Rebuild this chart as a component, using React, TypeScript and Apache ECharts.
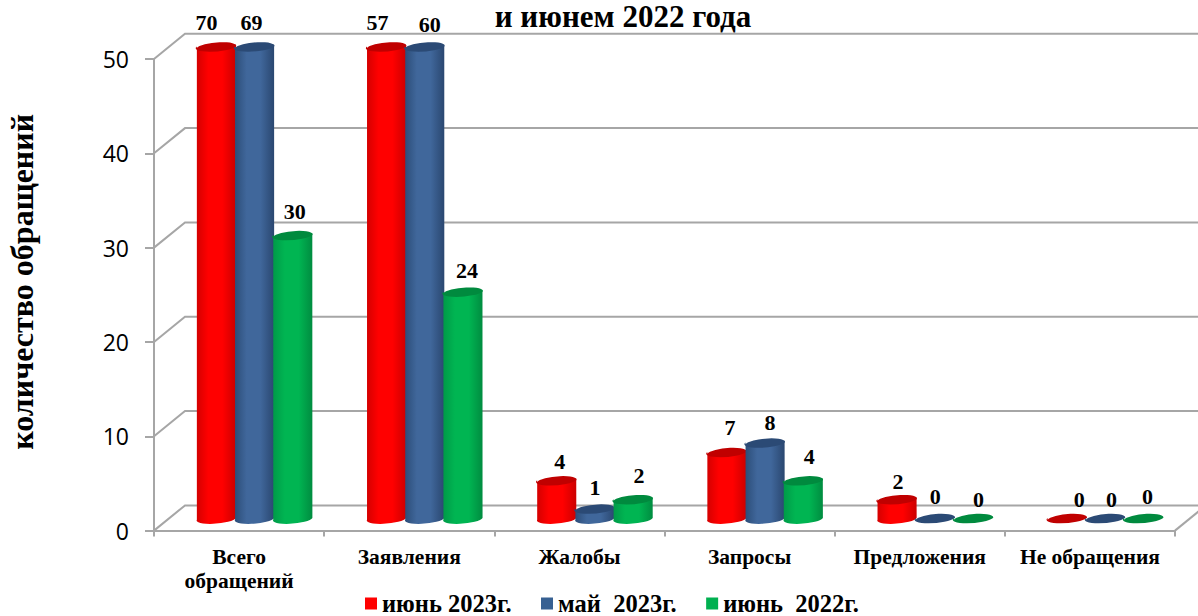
import React, { useEffect, useRef } from "react";
import * as echarts from "echarts";

const categories = ["Всего\nобращений", "Заявления", "Жалобы", "Запросы", "Предложения", "Не обращения"];
const june2023 = [70, 57, 4, 7, 2, 0];
const may2023 = [69, 60, 1, 8, 0, 0];
const june2022 = [30, 24, 2, 4, 0, 0];
const yTicks = [0, 10, 20, 30, 40, 50];
const yMax = 50;
const seriesNames = ["июнь 2023г.", "май  2023г.", "июнь  2022г."];

// hand-placed data-label nudges seen in the reference (px, relative to the top of each cylinder)
const labelDx = [
  [-10, -9, 3, 3, 1, 12],
  [-3, 5, 0, 5, 0, 6],
  [2, 4, 6, 6, 5, 4],
];
const labelDy = [
  [-24, -24, -19, -24.6, -17.7, -18.6],
  [-24, -22, -21, -20, -21.6, -18.6],
  [-23.6, -21, -23.7, -24, -18.6, -21.6],
];

const palette = [
  { flat: "#ff0000", top: "#c00000", edge: "#d40000", mid: "#ff0000", edge2: "#cc0000" },
  { flat: "#376092", top: "#2b4a75", edge: "#2c4d78", mid: "#40679b", edge2: "#2a4770" },
  { flat: "#00b050", top: "#008a3e", edge: "#009a48", mid: "#00b552", edge2: "#008c40" },
];

const SERIF = "'Liberation Serif', 'Times New Roman', serif";
const GREY = "#a6a6a6";
const DEPTH_X = 31;
const DEPTH_Y = 25.2;
const RX = 19.6;
const RY = 4.7;
const STEP = 38.2;
const TILT = 5;

function ellipsePath(cx: number, cy: number) {
  const t = (TILT * Math.PI) / 180;
  const dx = RX * Math.cos(t);
  const dy = RX * Math.sin(t);
  return `M${cx - dx} ${cy + dy}A${RX} ${RY} ${-TILT} 1 1 ${cx + dx} ${cy - dy}A${RX} ${RY} ${-TILT} 1 1 ${cx - dx} ${cy + dy}Z`;
}

function bodyPath(cx: number, top: number, base: number) {
  const t = (TILT * Math.PI) / 180;
  const dx = RX * Math.cos(t);
  const dy = RX * Math.sin(t);
  return `M${cx - dx} ${top + dy}L${cx - dx} ${base + dy}A${RX} ${RY} ${-TILT} 0 0 ${cx + dx} ${base - dy}L${cx + dx} ${top - dy}Z`;
}

function cylinderSeries(name: string, values: number[], si: number) {
  const c = palette[si];
  return {
    name,
    type: "custom",
    itemStyle: { color: c.flat },
    z: 3 + si,
    clip: false,
    encode: { x: 0, y: 1 },
    data: values.map((v, i) => [i, v]),
    renderItem: (_p: any, api: any) => {
      const idx = api.value(0);
      const val = api.value(1);
      const base = api.coord([idx, 0]);
      const top = api.coord([idx, Math.min(val, yMax)]);
      const cx = base[0] + DEPTH_X / 2 + (si - 1) * STEP;
      const by = base[1] - DEPTH_Y / 2;
      const ty = top[1] - DEPTH_Y / 2;
      const children: any[] = [];
      if (val > 0) {
        children.push({
          type: "path",
          shape: { pathData: bodyPath(cx, ty, by) },
          style: {
            fill: new echarts.graphic.LinearGradient(0, 0, 1, 0, [
              { offset: 0, color: c.edge },
              { offset: 0.3, color: c.mid },
              { offset: 0.65, color: c.mid },
              { offset: 1, color: c.edge2 },
            ]),
          },
        });
      }
      children.push({
        type: "path",
        shape: { pathData: ellipsePath(cx, ty) },
        style: { fill: c.top },
      });
      children.push({
        type: "text",
        x: cx + labelDx[si][idx],
        y: ty + labelDy[si][idx],
        style: {
          text: String(val),
          fill: "#000",
          font: `bold 22px ${SERIF}`,
          align: "center",
          verticalAlign: "middle",
        },
      });
      return { type: "group", children };
    },
  };
}

const wallSeries = {
  name: "walls",
  type: "custom",
  silent: true,
  z: 1,
  clip: false,
  encode: { x: 0, y: 1 },
  data: yTicks.map((v) => [0, v]),
  renderItem: (p: any, api: any) => {
    const y = api.coord([0, api.value(1)])[1];
    const x0 = p.coordSys.x;
    const x1 = x0 + p.coordSys.width;
    const lineStyle = { stroke: GREY, lineWidth: 2, fill: "none" };
    const children: any[] = [
      {
        type: "polyline",
        shape: {
          points: [
            [x0, y],
            [x0 + DEPTH_X, y - DEPTH_Y],
            [x1 + DEPTH_X, y - DEPTH_Y],
          ],
        },
        style: lineStyle,
      },
    ];
    if (api.value(1) === 0) {
      children.push({
        type: "line",
        shape: { x1, y1: y, x2: x1 + DEPTH_X, y2: y - DEPTH_Y },
        style: lineStyle,
      });
    }
    return { type: "group", children };
  },
};

export default function App() {
  const ref = useRef<HTMLDivElement>(null);
  useEffect(() => {
    const chart = echarts.init(ref.current!, null, { renderer: "svg" });
    chart.setOption({
      animation: false,
      backgroundColor: "#ffffff",
      title: {
        text: "и июнем 2022 года",
        left: 618,
        top: -4.5,
        textAlign: "center",
        textStyle: { fontFamily: SERIF, fontWeight: "bold", fontSize: 31, color: "#000" },
      },
      legend: {
        data: seriesNames,
        left: 365,
        top: 591,
        padding: 0,
        icon: "rect",
        itemWidth: 12,
        itemHeight: 12,
        itemGap: 29.5,
        textStyle: { fontFamily: SERIF, fontWeight: "bold", fontSize: 24.5, lineHeight: 22, color: "#000" },
      },
      grid: { left: 154, right: 23, top: 59, bottom: 85.4, outerBoundsMode: "none" },
      xAxis: {
        type: "category",
        data: categories,
        axisLine: { lineStyle: { color: GREY, width: 2 } },
        axisTick: { show: true, length: 6, lineStyle: { color: GREY, width: 2 } },
        axisLabel: {
          interval: 0,
          margin: 14,
          fontFamily: SERIF,
          fontWeight: "bold",
          fontSize: 21.5,
          lineHeight: 24,
          color: "#000",
        },
      },
      yAxis: {
        type: "value",
        min: 0,
        max: yMax,
        interval: 10,
        name: "количество обращений",
        nameLocation: "middle",
        nameGap: 116,
        nameRotate: 90,
        nameTextStyle: { fontFamily: SERIF, fontWeight: "bold", fontSize: 32, color: "#000", padding: [0, 0, 0, 26] },
        splitLine: { show: false },
        axisLine: { show: true, lineStyle: { color: GREY, width: 2 } },
        axisTick: { show: true, length: 9, lineStyle: { color: GREY, width: 2 } },
        axisLabel: { margin: 25, fontFamily: "'Open Sans', sans-serif", fontSize: 23, color: "#000" },
      },
      series: [
        wallSeries,
        cylinderSeries(seriesNames[0], june2023, 0),
        cylinderSeries(seriesNames[1], may2023, 1),
        cylinderSeries(seriesNames[2], june2022, 2),
      ],
    });
    return () => chart.dispose();
  }, []);
  return <div ref={ref} style={{ position: "absolute", left: 0, top: 0, width: 1198, height: 616 }} />;
}
